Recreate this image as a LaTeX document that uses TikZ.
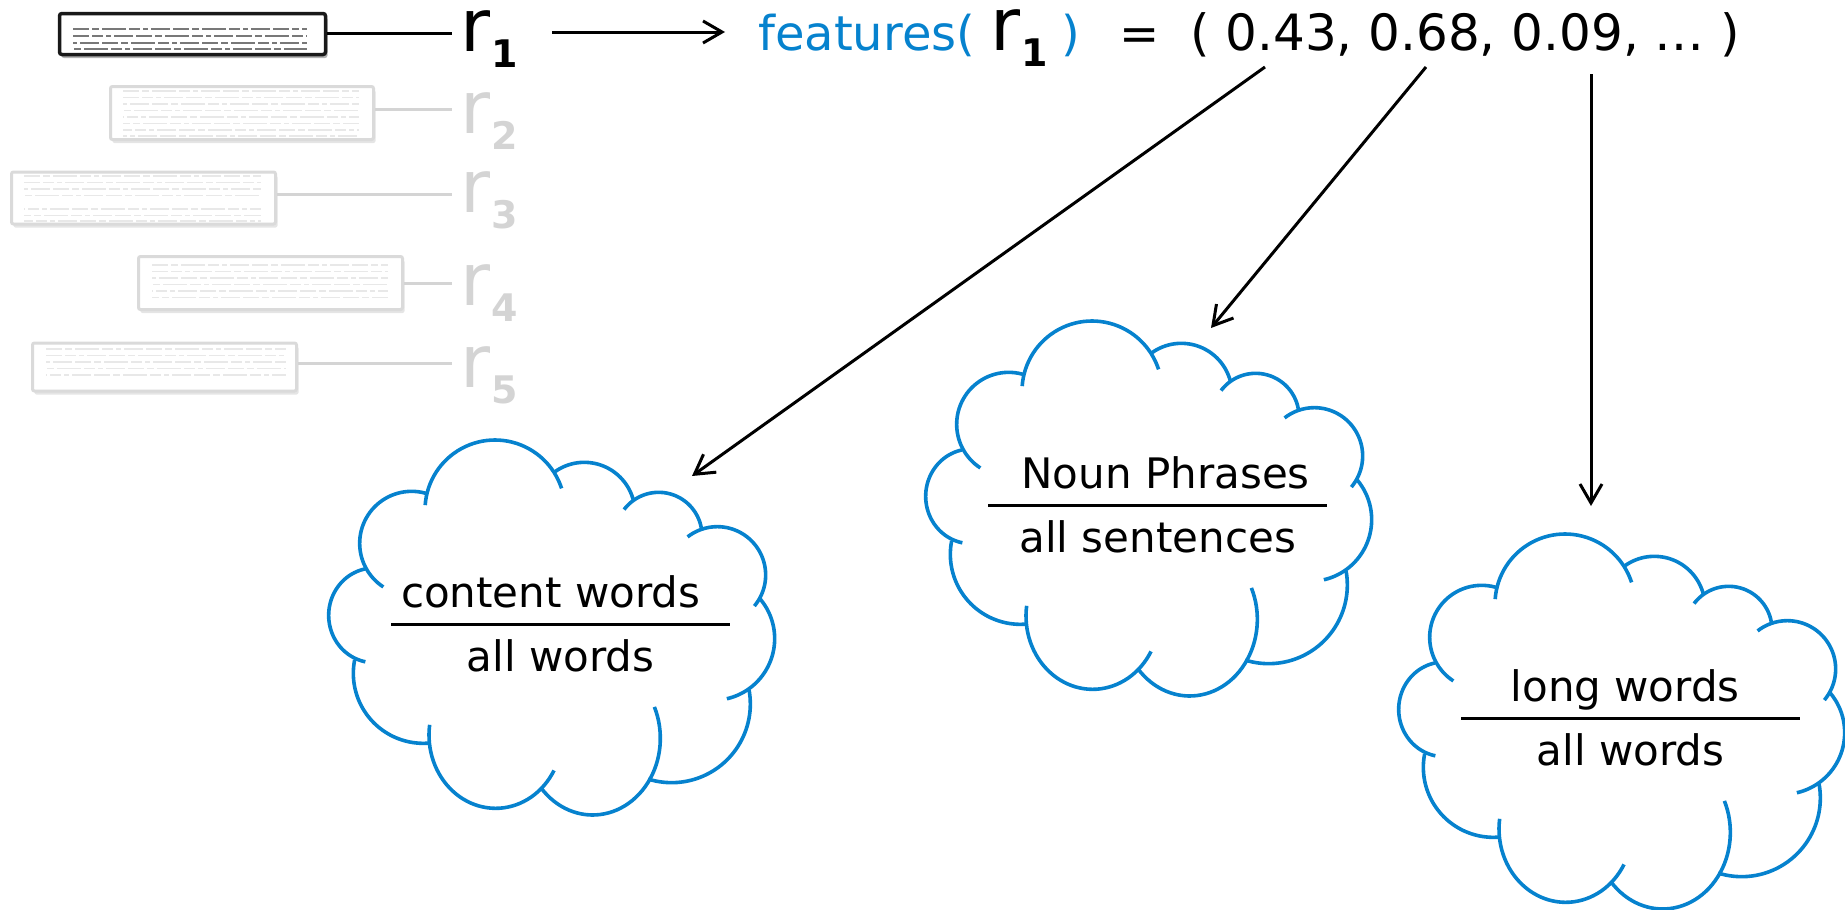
\documentclass[tikz,border=0pt]{standalone}
\usepackage{fontspec}
\setmainfont{DejaVu Sans}
\usetikzlibrary{arrows.meta,shadows}
\definecolor{cblue}{RGB}{6,130,206}
\definecolor{lgray}{RGB}{212,212,212}
\definecolor{lbox}{RGB}{218,218,218}
\definecolor{ltxt}{RGB}{232,232,232}
\definecolor{dtxt}{RGB}{120,120,120}

\newcommand\rsym[1]{\raisebox{0pt}[41pt][0pt]{\fontsize{73}{73}\selectfont r}\kern1pt\raisebox{-16.5pt}[12pt][16.5pt]{\fontsize{38}{38}\selectfont\bfseries #1}}

\newcommand\lobe[6]{\draw[cloudline] plot[domain=#5:#6,samples=45,variable=\t] ({#1+#3*cos(\t)},{#2+#4*sin(\t)});}

\newcommand\cloudat[6]{%
 \begin{scope}[shift={(#1,#2)}]
 \begin{scope}[x=0.333333pt,y=-0.333333pt]
  \lobe{275}{340}{156}{156}{123}{288}
  \lobe{525}{240}{210}{210}{184}{342}
  \lobe{793}{249}{152}{152}{234.6}{345.1}
  \lobe{1016}{317}{130}{130}{217}{352.4}
  \lobe{1192}{435}{145}{145}{232}{400}
  \lobe{1179}{626}{185}{185}{319.1}{437}
  \lobe{1055}{822}{236}{236}{-10.3}{107.4}
  \lobe{818}{925}{203}{230}{-24.2}{140}
  \lobe{527}{915}{200}{220}{28.9}{188}
  \lobe{310}{730}{210}{210}{84.6}{191}
  \lobe{162}{556}{136}{142}{101}{258.4}
  \node[ctext] (#3n) at ({722+3*(#5)},532) {#4};
  \node[ctext] (#3d) at (722,724) {#6};
  \draw[fracline] (#3n.base -| 214,0) ++(0,51) coordinate (#3a) -- (#3a -| 1230,0) coordinate (#3b);
 \end{scope}\end{scope}}

\tikzset{
  cloudline/.style={draw=cblue, line width=3.6pt, line join=round},
  ctext/.style={anchor=base, inner sep=0pt, font=\fontsize{42}{50}\selectfont},
  fracline/.style={draw=black, line width=3pt},
  docdark/.style={draw=black!90, line width=3.5pt, rounded corners=2.5pt, fill=white, inner sep=0pt,
    drop shadow={shadow xshift=2pt, shadow yshift=-3.5pt, opacity=0.3, fill=black}},
  doclight/.style={draw=lbox, line width=3pt, rounded corners=2pt, fill=white, inner sep=0pt,
    drop shadow={shadow xshift=2pt, shadow yshift=-3.5pt, opacity=0.1, fill=black}},
  txtdark/.style={draw=dtxt, line width=2.4pt,
    dash pattern=on 16pt off 3pt on 7pt off 3pt on 24pt off 3pt on 11pt off 3pt on 5pt off 3pt on 19pt off 3pt},
  txtlight/.style={draw=ltxt, line width=1.8pt,
    dash pattern=on 16pt off 3pt on 7pt off 3pt on 24pt off 3pt on 11pt off 3pt on 5pt off 3pt on 19pt off 3pt},
  rlab/.style={anchor=base west, inner xsep=8.4pt, inner ysep=0pt},
  connd/.style={draw=black, line width=3pt},
  connl/.style={draw=lgray, line width=3pt},
  arr/.style={draw=black, line width=3pt, -{Straight Barb[length=19pt,width=22pt]}},
  topfont/.style={anchor=base west, inner sep=0pt, font=\fontsize{48}{50}\selectfont},
  numfont/.style={anchor=base west, inner sep=0pt, font=\fontsize{50}{52}\selectfont}
}

\begin{document}
\begin{tikzpicture}[x=1pt,y=-1pt]
\useasboundingbox (0,0) rectangle (1845,910);

% document snippets
\node[docdark, minimum width=266pt, minimum height=41pt] (d1) at (192.5,34) {};
\node[doclight, minimum width=263pt, minimum height=53pt] (d2) at (242,113) {};
\node[doclight, minimum width=264pt, minimum height=52pt] (d3) at (143.5,198) {};
\node[doclight, minimum width=264pt, minimum height=53pt] (d4) at (270.5,283) {};
\node[doclight, minimum width=264pt, minimum height=48pt] (d5) at (164.5,367) {};

\foreach \yy/\ph in {29/0pt,36/37pt,43/71pt,49/18pt}
  \draw[txtdark, dash phase=\ph] (73,\yy) -- (307,\yy);
\foreach \yy/\ph in {91/0pt,97.5/37pt,104/71pt,110.5/18pt,117/52pt,123.5/9pt,130/44pt,136/63pt}
  \draw[txtlight, dash phase=\ph] (123,\yy) -- (359,\yy);
\foreach \yy/\ph in {176/0pt,182.5/37pt,189/71pt,195.5/18pt,209/52pt,215.5/9pt,221/44pt}
  \draw[txtlight, dash phase=\ph] (24,\yy) -- (261,\yy);
\foreach \yy/\ph in {265/0pt,271.5/37pt,278/71pt,284.5/18pt,291/52pt,297.5/9pt}
  \draw[txtlight, dash phase=\ph] (152,\yy) -- (388,\yy);
\foreach \yy/\ph in {349/0pt,355.5/37pt,362/71pt,368.5/18pt,375/52pt}
  \draw[txtlight, dash phase=\ph] (46,\yy) -- (286,\yy);

% r labels
\node[rlab] (r1) at (452,51) {\rsym{1}};
\node[rlab, text=lgray] (r2) at (452,133) {\rsym{2}};
\node[rlab, text=lgray] (r3) at (452,212) {\rsym{3}};
\node[rlab, text=lgray] (r4) at (452,305) {\rsym{4}};
\node[rlab, text=lgray] (r5) at (452,387) {\rsym{5}};

\draw[connd] (d1.east |- 0,33) -- (r1.west |- 0,33);
\draw[connl] (d2.east |- 0,109) -- (r2.west |- 0,109);
\draw[connl] (d3.east |- 0,194) -- (r3.west |- 0,194);
\draw[connl] (d4.east |- 0,283) -- (r4.west |- 0,283);
\draw[connl] (d5.east |- 0,363) -- (r5.west |- 0,363);

% top formula
\node[topfont, text=cblue] (feat) at (758,50) {features(};
\node[anchor=base west, inner sep=0pt] (fr1) at (990,50) {\rsym{1}};
\node[topfont, text=cblue] (fclose) at (1061,50) {)};
\node[topfont] (eq) at (1119,50) {=};
\node[numfont] (vec) at (1190,50) {( 0.43, 0.68, 0.09, … )};

\coordinate (a0) at (552,32);
\coordinate (a1) at (725,32);
\draw[arr] (a0) -- (a1);

% clouds
\cloudat{320}{430}{c1}{content words}{-10}{all words}
\cloudat{917}{311}{c2}{Noun Phrases}{8}{all sentences}
\cloudat{1390}{524}{c3}{long words}{-5.5}{all words}

% feature arrows
\coordinate (s1) at (1265,67);
\coordinate (t1) at (692,476);
\coordinate (s2) at (1426,67);
\coordinate (t2) at (1211,328);
\coordinate (s3) at (1591,74);
\coordinate (t3) at (1591,506);
\draw[arr] (s1) -- (t1);
\draw[arr] (s2) -- (t2);
\draw[arr] (s3) -- (t3);
\end{tikzpicture}
\end{document}
